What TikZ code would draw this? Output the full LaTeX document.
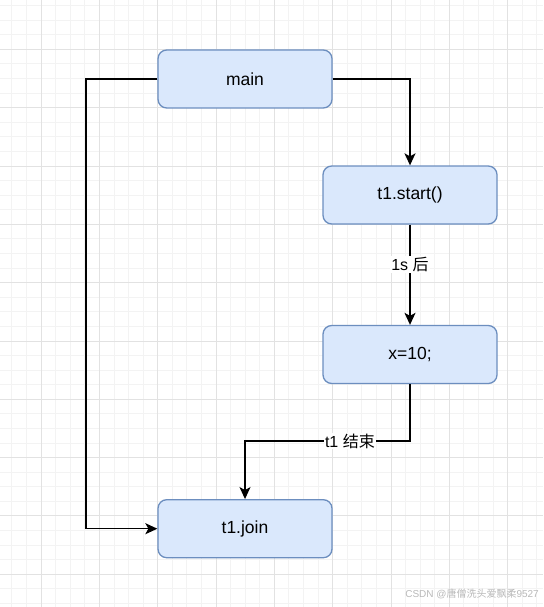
\documentclass[tikz,border=0pt]{standalone}
\usepackage{fontspec}
\setmainfont{Liberation Sans}
\newfontfamily\cjk{Noto Sans CJK SC}
\usetikzlibrary{arrows.meta}
\definecolor{boxfill}{HTML}{DAE8FC}
\definecolor{boxline}{HTML}{6C8EBF}
\definecolor{gridminor}{HTML}{F3F3F3}
\definecolor{gridmajor}{HTML}{E2E2E2}

\begin{document}
\begin{tikzpicture}[x=1pt,y=-1pt,
    box/.style={draw=boxline,fill=boxfill,line width=1.3pt,rounded corners=8.7pt,
        minimum width=174pt,minimum height=58pt,inner sep=0pt,
        font=\fontsize{17.5}{21}\selectfont},
    lbl/.style={fill=white,inner sep=1pt,font=\fontsize{16}{19}\selectfont},
    link/.style={line width=1.4pt,-{Stealth[length=12pt,width=11pt,inset=3pt]}}]
        \fill[white] (0,0) rectangle (543,607);
        \useasboundingbox (0,0) rectangle (543,607);

        % grid
        \foreach \k in {0,...,37} {
            \draw[gridminor,line width=0.8pt] (11.84+14.58*\k,0) -- (11.84+14.58*\k,607);
        }
        \foreach \k in {0,...,41} {
            \draw[gridminor,line width=0.8pt] (0,5.56+14.58*\k) -- (543,5.56+14.58*\k);
        }
        \foreach \k in {0,...,8} {
            \draw[gridmajor,line width=0.8pt] (41+58.32*\k,0) -- (41+58.32*\k,607);
        }
        \foreach \k in {0,...,10} {
            \draw[gridmajor,line width=0.8pt] (0,49.3+58.32*\k) -- (543,49.3+58.32*\k);
        }

        \node[box] (main) at (245,79) {main};
        \node[box] (tstart) at (410,195) {t1.start()};
        \node[box] (xset) at (410,354.5) {x=10;};
        \node[box] (tjoin) at (245,528.7) {t1.join};

        \coordinate (lft) at (86,79);
        \coordinate (turn) at (410,441);

        \draw[link] (main.east) -| (tstart.north);
        \draw[link] (main.west) -- (lft) |- (tjoin.west);
        \draw[link] (tstart.south) -- node[lbl,pos=0.40] {1s {\cjk 后}} (xset.north);
        \draw[link] (xset.south) -- (turn) -| node[lbl,pos=0.182] {t1 {\cjk 结束}} (tjoin.north);

        \node[anchor=east,text=gray!55,inner sep=0pt,font=\fontsize{10}{12}\selectfont]
            (mark) at (539,594) {CSDN @{\cjk 唐僧洗头爱飘柔}9527};
\end{tikzpicture}
\end{document}
